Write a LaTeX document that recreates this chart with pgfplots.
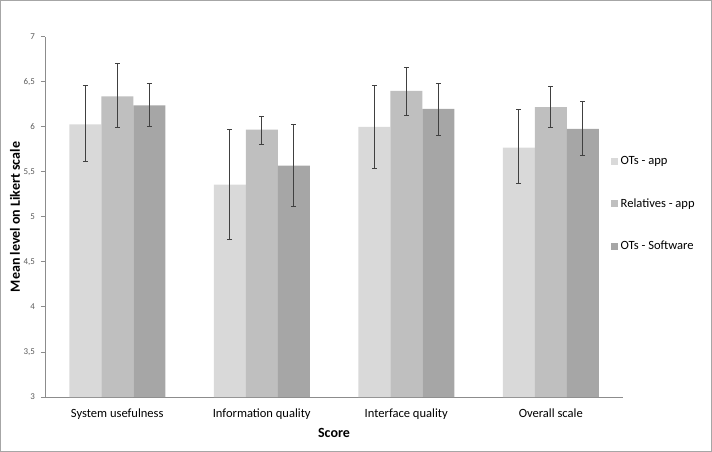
\documentclass[border=0pt]{standalone}
\usepackage{pgfplots}
\pgfplotsset{compat=1.18}
\usepackage{pgfplotstable}
\usepackage{fontspec}
\setmainfont{Carlito}

\definecolor{otapp}{HTML}{D9D9D9}
\definecolor{relapp}{HTML}{BFBFBF}
\definecolor{otsoft}{HTML}{A6A6A6}
\definecolor{axisgray}{HTML}{8C8C8C}
\definecolor{ticktext}{HTML}{595959}
\definecolor{errcol}{HTML}{404040}

% x  mean  err+  err-
\pgfplotstableread{
x y ep em
0 6.03 0.43 0.41
1 5.36 0.61 0.61
2 6.00 0.46 0.46
3 5.77 0.42 0.40
}\otsapp
\pgfplotstableread{
x y ep em
0 6.34 0.37 0.35
1 5.97 0.15 0.16
2 6.40 0.26 0.27
3 6.22 0.23 0.23
}\relativesapp
\pgfplotstableread{
x y ep em
0 6.24 0.24 0.23
1 5.57 0.46 0.45
2 6.20 0.28 0.29
3 5.98 0.30 0.30
}\otssoftware

\begin{document}
\begin{tikzpicture}
\useasboundingbox (0,0) rectangle (534pt,339pt);
\draw[gray!70, line width=0.75pt] (0.375pt,0.375pt) rectangle (533.625pt,338.625pt);
\begin{axis}[
  at={(33.75pt,41.25pt)}, anchor=south west,
  scale only axis,
  width=433.5pt, height=270pt,
  ybar=0pt, bar width=24pt,
  ymin=3, ymax=7,
  ytick={3,3.5,...,7},
  xmin=-0.5, xmax=3.5,
  xtick=data,
  xticklabels={System usefulness,Information quality,Interface quality,Overall scale},
  x tick style={draw=none},
  axis lines*=left,
  axis line style={axisgray, line width=0.75pt},
  y tick style={axisgray, line width=0.75pt},
  tick align=outside, major tick length=3pt,
  /pgf/number format/use comma,
  /pgf/number format/assume math mode=true,
  yticklabel style={font=\fontsize{6.7}{7}\selectfont, text=ticktext, xshift=-1pt},
  xticklabel style={font=\fontsize{9.4}{10}\selectfont, text=black, yshift=-2pt},
  xlabel={Score}, ylabel={Mean level on Likert scale},
  xlabel style={font=\bfseries\fontsize{10.5}{12}\selectfont, at={(axis description cs:0.5,-0.1)}, anchor=center},
  ylabel style={font=\bfseries\fontsize{10.5}{12}\selectfont, at={(axis description cs:-0.052,0.5)}, anchor=center},
  legend style={at={(rel axis cs:0.979,0.536)}, anchor=west, draw=none, fill=none,
    font=\fontsize{9.4}{10}\selectfont, row sep=20pt, inner sep=0pt,
    cells={anchor=west}},
  legend image code/.code={\fill[#1, draw=none] (0pt,-2.6pt) rectangle (5.2pt,2.6pt);},
  error bars/y dir=both, error bars/y explicit,
  error bars/error bar style={errcol, line width=0.8pt},
  error bars/error mark options={errcol, rotate=90, mark size=1.8pt, line width=0.8pt},
]
\addplot[fill=otapp, draw=none] table[x=x, y=y, y error plus=ep, y error minus=em] {\otsapp};
\addlegendentry{OTs - app}
\addplot[fill=relapp, draw=none] table[x=x, y=y, y error plus=ep, y error minus=em] {\relativesapp};
\addlegendentry{Relatives - app}
\addplot[fill=otsoft, draw=none] table[x=x, y=y, y error plus=ep, y error minus=em] {\otssoftware};
\addlegendentry{OTs - Software}
\end{axis}
\end{tikzpicture}
\end{document}
